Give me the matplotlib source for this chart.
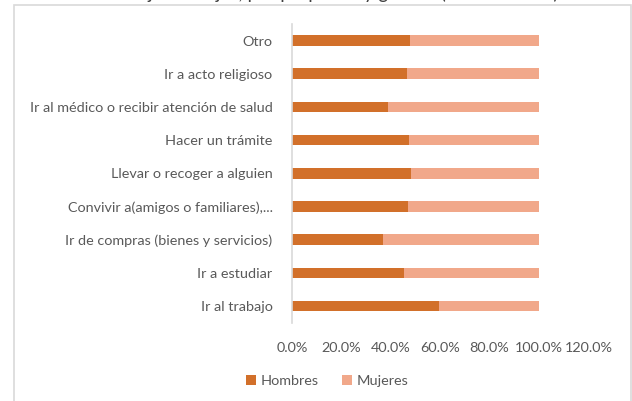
import matplotlib
matplotlib.use("Agg")
import matplotlib.pyplot as plt
from matplotlib.patches import Rectangle
from matplotlib.ticker import PercentFormatter

plt.rcParams['font.family'] = ['Lato', 'DejaVu Sans']

# proposito del viaje, de abajo hacia arriba
categorias = ['Ir al trabajo', 'Ir a estudiar', 'Ir de compras (bienes y servicios)',
              'Convivir a(amigos o familiares),...', 'Llevar o recoger a alguien',
              'Hacer un trámite', 'Ir al médico o recibir atención de salud',
              'Ir a acto religioso', 'Otro']
hombres = [0.596, 0.455, 0.368, 0.470, 0.482, 0.472, 0.390, 0.466, 0.478]
mujeres = [1 - h for h in hombres]
xticks = [0, 0.2, 0.4, 0.6, 0.8, 1.0, 1.2]

c_h = '#D2702A'
c_m = '#F1A88A'
gris = '#595959'

fig = plt.figure(figsize=(6.32, 4.01), dpi=100)
ax = fig.add_axes([0.462, 0.1955, 0.469, 0.7446])

y = range(len(categorias))
ax.barh(y, hombres, height=0.32, color=c_h, label='Hombres')
ax.barh(y, mujeres, left=hombres, height=0.32, color=c_m, label='Mujeres')

ax.set_xlim(0, 1.2)
ax.set_ylim(-0.5, len(categorias) - 0.5)
ax.set_xticks(xticks)
ax.xaxis.set_major_formatter(PercentFormatter(1.0, decimals=1))
ax.set_yticks(list(y))
ax.set_yticklabels(categorias)
ax.tick_params(axis='both', colors=gris, labelsize=10.4, length=0)
ax.tick_params(axis='x', pad=14)
ax.tick_params(axis='y', pad=14)

for s in ['top', 'right', 'bottom']:
    ax.spines[s].set_visible(False)
ax.spines['left'].set_color('#D9D9D9')
ax.spines['left'].set_linewidth(1.2)

# marco del grafico
fig.patches.append(Rectangle((14 / 632, -0.01), 617 / 632, 1 - 5 / 401 + 0.01,
                             transform=fig.transFigure, fill=False,
                             edgecolor='#D9D9D9', linewidth=1.2))

# titulo cortado arriba
fig.text(0.5, 1 + 1.5 / 401, 'Porcentaje de viajes, por propósito y género (ZMVM 2017)',
         ha='center', va='baseline', fontsize=13.5, color='#404040')

ax.legend(loc='center', bbox_to_anchor=(327 / 632, 1 - 381 / 401),
          bbox_transform=fig.transFigure, ncol=2, frameon=False,
          fontsize=10.4, labelcolor=gris, handlelength=0.7, handleheight=0.7,
          handletextpad=0.3, columnspacing=1.6)

fig.savefig('out.png', dpi=100)
